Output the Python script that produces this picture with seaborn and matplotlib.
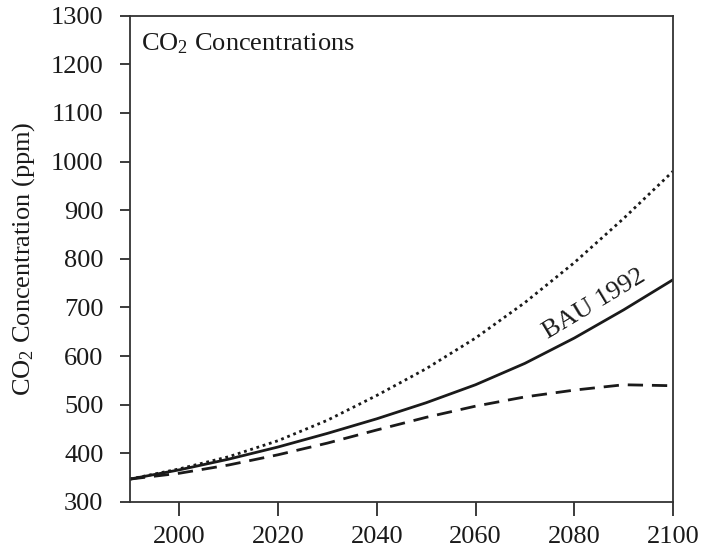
import matplotlib
matplotlib.use("Agg")
import matplotlib.pyplot as plt
import seaborn as sns
import pandas as pd

years = [1990, 2000, 2010, 2020, 2030, 2040, 2050, 2060, 2070, 2080, 2090, 2100]
bau_1992 = [347, 366, 388, 413, 441, 471, 504, 541, 585, 637, 695, 757]
high = [347, 368, 393, 426, 468, 519, 574, 637, 710, 792, 883, 980]
low = [347, 359, 376, 397, 421, 448, 474, 497, 516, 530, 541, 539]

x_ticks = [2000, 2020, 2040, 2060, 2080, 2100]
y_ticks = [300, 400, 500, 600, 700, 800, 900, 1000, 1100, 1200, 1300]

sns.set_style("ticks")
plt.rcParams["font.family"] = ["Liberation Serif", "DejaVu Serif"]
plt.rcParams["mathtext.fontset"] = "custom"
plt.rcParams["mathtext.rm"] = "Liberation Serif"
plt.rcParams["mathtext.it"] = "Liberation Serif:italic"
plt.rcParams["mathtext.bf"] = "Liberation Serif:bold"

fig = plt.figure(figsize=(7.02, 5.51), dpi=100)
ax = fig.add_axes([0.185, 0.089, 0.7737, 0.8826])

df = pd.DataFrame({"year": years, "bau": bau_1992, "high": high, "low": low})
ink = "#1a1a1a"
sns.lineplot(data=df, x="year", y="high", ax=ax, color=ink, lw=2.0,
             linestyle=(0, (1.0, 1.35)))
sns.lineplot(data=df, x="year", y="bau", ax=ax, color=ink, lw=2.0)
sns.lineplot(data=df, x="year", y="low", ax=ax, color=ink, lw=2.0,
             linestyle=(0, (5.5, 3.2)))

ax.set_xlim(1990, 2100)
ax.set_ylim(300, 1300)
ax.set_xticks(x_ticks)
ax.set_yticks(y_ticks)
ax.set_xlabel("")
ax.set_ylabel(r"CO$_2$ Concentration (ppm)", fontsize=19, labelpad=10, color=ink)
ax.tick_params(axis="x", length=10, width=1.2, labelsize=19, pad=7, colors=ink)
ax.tick_params(axis="y", length=7, width=1.2, labelsize=19, pad=12, colors=ink)
for s in ax.spines.values():
    s.set_visible(True)
    s.set_linewidth(1.3)
    s.set_color("#333333")

ax.text(0.02, 0.968, r"CO$_2$ Concentrations", transform=ax.transAxes,
        fontsize=19, va="top", ha="left", color=ink)
ax.text(2084, 706, "BAU 1992", fontsize=19, rotation=31, ha="center",
        va="center", color=ink, rotation_mode="anchor")

fig.savefig("out.png", dpi=100)
